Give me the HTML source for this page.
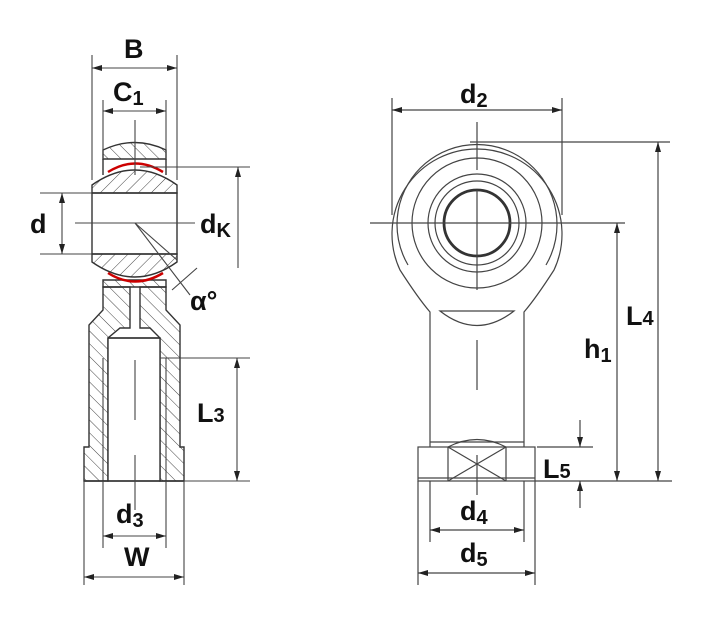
<!DOCTYPE html>
<html><head><style>
html,body{margin:0;padding:0;background:#fff;}
svg{display:block;}
text{font-family:"Liberation Sans",sans-serif;font-size:27px;font-weight:bold;fill:#111;}
</style></head><body>
<svg width="718" height="626" viewBox="0 0 718 626" xmlns="http://www.w3.org/2000/svg">
<defs>
<pattern id="h" width="9" height="9" patternUnits="userSpaceOnUse" patternTransform="rotate(-45)">
<line x1="0" y1="0" x2="0" y2="9" stroke="#444" stroke-width="1"/>
</pattern>
<pattern id="h2" width="9" height="9" patternUnits="userSpaceOnUse" patternTransform="rotate(45)">
<line x1="0" y1="0" x2="0" y2="9" stroke="#444" stroke-width="1"/>
</pattern>
<marker id="a" viewBox="0 0 10 6" refX="10" refY="3" markerWidth="10" markerHeight="6" orient="auto-start-reverse" markerUnits="userSpaceOnUse">
<path d="M0,0 L10,3 L0,6 z" fill="#222"/></marker>
</defs>
<g stroke="#333" stroke-width="1.4" fill="none">
<path d="M103,159 L103,150 Q135,135 166,150 L166,159 Z" fill="url(#h)"/>
<path d="M103,287 L103,280 L166,280 L166,287 Z" fill="url(#h)"/>
<path d="M92,193 L92,185 Q135,155 177,185 L177,193 Z" fill="url(#h2)"/>
<path d="M92,254 L92,262 Q135,292 177,262 L177,254 Z" fill="url(#h2)"/>
<rect x="92" y="193" width="85" height="61"/>
<line x1="103" y1="159" x2="103" y2="175"/><line x1="166" y1="159" x2="166" y2="175"/>
<path d="M103,287 L103,310 L89,325 L89,447 L84,447 L84,481 L108,481 L108,338 L120,328 L130,328 L130,287 Z" fill="url(#h)"/>
<path d="M166,287 L166,310 L180,325 L180,447 L184,447 L184,481 L160,481 L160,338 L150,328 L140,328 L140,287 Z" fill="url(#h)"/>
<rect x="108" y="338" width="52" height="143" fill="#fff"/>
<line x1="108" y1="338" x2="160" y2="338"/>
<line x1="103" y1="358" x2="103" y2="481" stroke-width="1"/>
<line x1="166" y1="358" x2="166" y2="481" stroke-width="1"/>
<line x1="84" y1="481" x2="184" y2="481"/>
</g>
<g stroke="#c00" stroke-width="2.5" fill="none">
<path d="M108,172 Q135,155 163,172"/>
<path d="M108,273 Q135,290 163,273"/>
</g>
<g stroke="#444" stroke-width="1.1" fill="none">
<line x1="135" y1="120" x2="135" y2="175"/>
<line x1="135" y1="360" x2="135" y2="420"/>
<line x1="135" y1="455" x2="135" y2="510"/>
<line x1="75" y1="223" x2="195" y2="223"/>
<line x1="92" y1="55" x2="92" y2="180"/><line x1="177" y1="55" x2="177" y2="180"/>
<line x1="92" y1="68" x2="177" y2="68" marker-start="url(#a)" marker-end="url(#a)"/>
<line x1="103" y1="100" x2="103" y2="159"/><line x1="166" y1="100" x2="166" y2="159"/>
<line x1="103" y1="111" x2="166" y2="111" marker-start="url(#a)" marker-end="url(#a)"/>
<line x1="40" y1="193" x2="92" y2="193"/><line x1="40" y1="254" x2="92" y2="254"/>
<line x1="62" y1="193" x2="62" y2="254" marker-start="url(#a)" marker-end="url(#a)"/>
<line x1="140" y1="167" x2="250" y2="167"/>
<line x1="238" y1="167" x2="238" y2="268" marker-start="url(#a)"/>
<line x1="135" y1="223" x2="190" y2="295"/>
<line x1="135" y1="223" x2="177" y2="260"/>
<line x1="172" y1="290" x2="197" y2="268"/>
<line x1="160" y1="358" x2="250" y2="358"/>
<line x1="184" y1="481" x2="250" y2="481"/>
<line x1="237" y1="358" x2="237" y2="481" marker-start="url(#a)" marker-end="url(#a)"/>
<line x1="103" y1="481" x2="103" y2="548"/><line x1="166" y1="481" x2="166" y2="548"/>
<line x1="103" y1="536" x2="166" y2="536" marker-start="url(#a)" marker-end="url(#a)"/>
<line x1="84" y1="481" x2="84" y2="585"/><line x1="184" y1="481" x2="184" y2="585"/>
<line x1="84" y1="577" x2="184" y2="577" marker-start="url(#a)" marker-end="url(#a)"/>
</g>
<g stroke="#444" stroke-width="1.2" fill="none">
<path d="M430,447 L430,312 Q418,298 400,270 A85,85 0 1 1 554,270 Q536,298 524,312 L524,447"/>
<path d="M408,265 A80,80 0 1 1 546,265"/>
<circle cx="477" cy="223" r="65"/>
<circle cx="477" cy="223" r="49"/>
<circle cx="477" cy="223" r="42"/>
<circle cx="477" cy="223" r="33" stroke-width="2.8" stroke="#333"/>
<path d="M440,311 L514,311 Q477,340 440,311 Z"/>
<rect x="418" y="447" width="117" height="34"/>
<line x1="448" y1="447" x2="448" y2="481"/><line x1="506" y1="447" x2="506" y2="481"/>
<line x1="448" y1="447" x2="506" y2="481"/><line x1="506" y1="447" x2="448" y2="481"/>
<path d="M448,447 Q477,432 506,447"/>
<line x1="430" y1="442" x2="524" y2="442"/>
<line x1="418" y1="478" x2="535" y2="478"/>
<line x1="477" y1="122" x2="477" y2="170"/>
<line x1="477" y1="190" x2="477" y2="290"/>
<line x1="477" y1="340" x2="477" y2="390"/>
<line x1="477" y1="455" x2="477" y2="495"/>
<line x1="370" y1="223" x2="625" y2="223"/>
<line x1="392" y1="98" x2="392" y2="215"/><line x1="562" y1="98" x2="562" y2="215"/>
<line x1="392" y1="110" x2="562" y2="110" marker-start="url(#a)" marker-end="url(#a)"/>
<line x1="470" y1="142" x2="670" y2="142"/>
<line x1="658" y1="142" x2="658" y2="481" marker-start="url(#a)" marker-end="url(#a)"/>
<line x1="617" y1="223" x2="617" y2="481" marker-start="url(#a)" marker-end="url(#a)"/>
<line x1="535" y1="481" x2="672" y2="481"/>
<line x1="537" y1="447" x2="593" y2="447"/>
<line x1="580" y1="420" x2="580" y2="447" marker-end="url(#a)"/>
<line x1="580" y1="508" x2="580" y2="481" marker-end="url(#a)"/>
<line x1="430" y1="481" x2="430" y2="542"/><line x1="524" y1="481" x2="524" y2="542"/>
<line x1="430" y1="530" x2="524" y2="530" marker-start="url(#a)" marker-end="url(#a)"/>
<line x1="418" y1="481" x2="418" y2="585"/><line x1="535" y1="481" x2="535" y2="585"/>
<line x1="418" y1="573" x2="535" y2="573" marker-start="url(#a)" marker-end="url(#a)"/>
</g>
<g>
<text x="124" y="58">B</text>
<text x="113" y="101">C<tspan font-size="20" dy="4">1</tspan></text>
<text x="30" y="233">d</text>
<text x="200" y="233">d<tspan font-size="20" dy="4">K</tspan></text>
<text x="190" y="310" font-size="24">α°</text>
<text x="197" y="422">L<tspan font-size="20">3</tspan></text>
<text x="116" y="523">d<tspan font-size="20" dy="4">3</tspan></text>
<text x="124" y="566">W</text>
<text x="460" y="103">d<tspan font-size="20" dy="4">2</tspan></text>
<text x="626" y="325">L<tspan font-size="20">4</tspan></text>
<text x="584" y="358">h<tspan font-size="20" dy="4">1</tspan></text>
<text x="543" y="478">L<tspan font-size="20">5</tspan></text>
<text x="460" y="520">d<tspan font-size="20" dy="4">4</tspan></text>
<text x="460" y="562">d<tspan font-size="20" dy="4">5</tspan></text>
</g>
</svg>
</body></html>
